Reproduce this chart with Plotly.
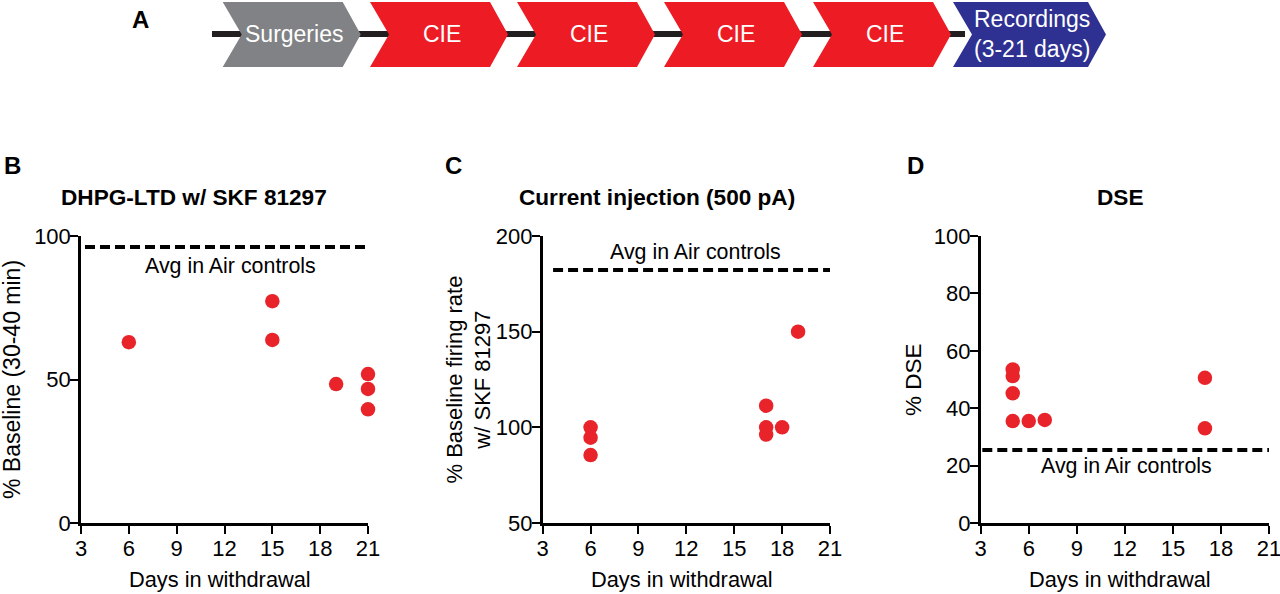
import plotly.graph_objects as go

# Daten
tage_B = [6, 15, 15, 19, 21, 21, 21]
werte_B = [63.0, 77.3, 63.8, 48.4, 51.9, 46.7, 39.6]
luft_B = 96.2

tage_C = [6, 6, 6, 17, 17, 17, 18, 19]
werte_C = [100, 94.6, 85.5, 111.3, 100, 96.2, 100, 150]
luft_C = 182.2

tage_D = [5, 5, 5, 5, 6, 7, 17, 17]
werte_D = [53.5, 51.2, 45.2, 35.5, 35.5, 35.9, 50.6, 33.0]
luft_D = 25.4

# Ablauf oben (Panel A)
stufen = ['Surgeries', 'CIE', 'CIE', 'CIE', 'CIE', 'Recordings<br>(3-21 days)']
stufen_farben = ['#808285', '#ed1c24', '#ed1c24', '#ed1c24', '#ed1c24', '#2e3192']

titel = ['DHPG-LTD w/ SKF 81297', 'Current injection (500 pA)', 'DSE']
y_titel = ['% Baseline (30-40 min)', '% Baseline firing rate<br>w/ SKF 81297', '% DSE']
y_bereiche = [[0, 100], [50, 200], [0, 100]]
y_ticks = [[0, 50, 100], [50, 100, 150, 200], [0, 20, 40, 60, 80, 100]]
x_ticks = [3, 6, 9, 12, 15, 18, 21]

ROT = '#e8242a'
FONT = 'Liberation Sans, Arial, sans-serif'
W, H = 1280, 594


def px_x(p):
    return p / W


def px_y(p):
    return 1 - p / H


# Plotbereiche in Pixeln (links, rechts)
x_dom = [(81, 368), (542.7, 830), (980.7, 1269)]
y_dom = (236, 523)

fig = go.Figure()

daten = [(tage_B, werte_B, luft_B, 3.25), (tage_C, werte_C, luft_C, 3.65), (tage_D, werte_D, luft_D, 3.1)]
for i, (xs, ys, luft, x0) in enumerate(daten):
    ax = '' if i == 0 else str(i + 1)
    # gestrichelte Linie: Mittelwert der Luft-Kontrollen
    fig.add_trace(go.Scatter(
        x=[x0, 21], y=[luft, luft], mode='lines',
        line=dict(color='black', width=4, dash='10px,5px'),
        xaxis='x' + ax, yaxis='y' + ax, showlegend=False, cliponaxis=False))
    fig.add_trace(go.Scatter(
        x=xs, y=ys, mode='markers',
        marker=dict(color=ROT, size=14.5),
        xaxis='x' + ax, yaxis='y' + ax, showlegend=False, cliponaxis=False))

achsen = dict(
    showline=True, linecolor='black', linewidth=2.5, ticks='outside',
    ticklen=8, tickwidth=2.3, tickcolor='black', showgrid=False, zeroline=False,
    tickfont=dict(family=FONT, size=22, color='black'), fixedrange=True, automargin=False,
    ticklabeloverflow='allow')

layout = dict(
    width=W, height=H, margin=dict(l=0, r=0, t=0, b=0, autoexpand=False),
    plot_bgcolor='white', paper_bgcolor='white', showlegend=False,
    font=dict(family=FONT, color='black'))

for i in range(3):
    ax = '' if i == 0 else str(i + 1)
    layout['xaxis' + ax] = dict(
        achsen, domain=[px_x(x_dom[i][0]), px_x(x_dom[i][1])], range=[3, 21],
        tickvals=x_ticks, anchor='y' + ax, ticklabelstandoff=-4)
    layout['yaxis' + ax] = dict(
        achsen, domain=[px_y(y_dom[1]), px_y(y_dom[0])], range=y_bereiche[i],
        tickvals=y_ticks[i], anchor='x' + ax, ticklabelstandoff=-5)

# Achse für das Ablaufschema in Pixelkoordinaten
layout['xaxis4'] = dict(domain=[0, 1], range=[0, W], visible=False, fixedrange=True, anchor='y4')
layout['yaxis4'] = dict(domain=[px_y(75), 1], range=[75, 0], visible=False, fixedrange=True, anchor='x4')

fig.update_layout(**layout)

# unsichtbarer Trace, damit Achse 4 existiert
fig.add_trace(go.Scatter(x=[0], y=[0], mode='markers', marker=dict(opacity=0),
                         xaxis='x4', yaxis='y4', showlegend=False, hoverinfo='skip'))

annot = []
shapes = []

# Verbindungslinie
shapes.append(dict(type='line', xref='x4', yref='y4', x0=212, x1=965, y0=34, y1=34,
                   line=dict(color='#231f20', width=6), layer='above'))

start = [222.7, 370, 517, 664, 813, 953]
for i, (txt, col) in enumerate(zip(stufen, stufen_farben)):
    x0 = start[i]
    breite = 120 if i < 5 else 135
    kerbe, spitze = 19, 18
    top, bot, mid = 2, 67, 34.5
    pfad = (f'M {x0},{top} L {x0 + breite},{top} L {x0 + breite + spitze},{mid} '
            f'L {x0 + breite},{bot} L {x0},{bot} L {x0 + kerbe},{mid} Z')
    shapes.append(dict(type='path', xref='x4', yref='y4', path=pfad,
                       fillcolor=col, line=dict(width=0), layer='above'))
    annot.append(dict(x=x0 + (kerbe + breite) / 2 + 2, y=mid - 1, xref='x4', yref='y4',
                      text=txt, showarrow=False, font=dict(family=FONT, size=23, color='white'),
                      xanchor='center', yanchor='middle'))

# Panelbuchstaben
for buchst, x, y in [('A', 140, 20), ('B', 12, 165), ('C', 453, 165), ('D', 915, 165)]:
    annot.append(dict(x=px_x(x), y=px_y(y), xref='paper', yref='paper', text=f'<b>{buchst}</b>',
                      showarrow=False, font=dict(family=FONT, size=24, color='black'),
                      xanchor='center', yanchor='middle'))

# Titel
for t, x in zip(titel, [194, 657, 1120]):
    annot.append(dict(x=px_x(x), y=px_y(197), xref='paper', yref='paper', text=f'<b>{t}</b>',
                      showarrow=False, font=dict(family=FONT, size=22.6, color='black'),
                      xanchor='center', yanchor='middle'))

# y-Achsentitel
for t, x, gr in zip(y_titel, [12, 468.5, 913], [23, 22, 22.5]):
    annot.append(dict(x=px_x(x), y=px_y(380), xref='paper', yref='paper', text=t, textangle=-90,
                      showarrow=False, font=dict(family=FONT, size=gr, color='black'),
                      xanchor='center', yanchor='middle'))

# x-Achsentitel
for x in [220, 681.7, 1120]:
    annot.append(dict(x=px_x(x), y=px_y(579), xref='paper', yref='paper', text='Days in withdrawal',
                      showarrow=False, font=dict(family=FONT, size=21.8, color='black'),
                      xanchor='center', yanchor='middle'))

# "Avg in Air controls"
for ax, x, y in [('', 12.4, 89.5), ('2', 12.6, 191.6), ('3', 12.1, 19.9)]:
    annot.append(dict(x=x, y=y, xref='x' + ax, yref='y' + ax, text='Avg in Air controls',
                      showarrow=False, font=dict(family=FONT, size=21.4, color='black'),
                      xanchor='center', yanchor='middle'))

fig.update_layout(annotations=annot, shapes=shapes)

# Seitenrand des Browsers entfernen, damit die Grafik bei (0,0) beginnt
nachher = ("document.body.style.margin='0px';document.body.style.padding='0px';"
           "Plotly.relayout(document.getElementById('{plot_id}'), {width: 1280, height: 594});")

fig.write_html("out.html", post_script=nachher, config={'displayModeBar': False})
